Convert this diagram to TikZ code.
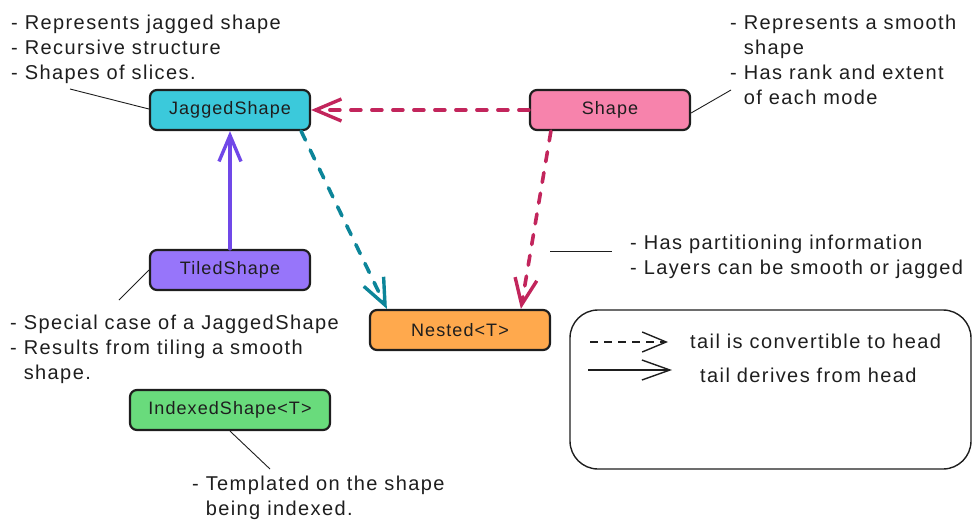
\documentclass[tikz,border=0pt]{standalone}
\usepackage{fontspec}
\setmainfont{Liberation Sans}[LetterSpace=7]
\newfontfamily\boxfont{Liberation Sans}[LetterSpace=6]
\usetikzlibrary{arrows.meta}
\definecolor{ink}{HTML}{1E1E1E}
\definecolor{cyanfill}{HTML}{3BC9DB}
\definecolor{pinkfill}{HTML}{F783AC}
\definecolor{purplefill}{HTML}{9775FA}
\definecolor{orangefill}{HTML}{FFA94D}
\definecolor{greenfill}{HTML}{69DB7C}
\definecolor{crimson}{HTML}{C2255C}
\definecolor{tealink}{HTML}{0C8599}
\definecolor{violetink}{HTML}{7048E8}
\begin{document}
\begin{tikzpicture}[x=1pt,y=-1pt,
  notefont/.style={font=\fontsize{20}{25}\selectfont},
  box/.style={draw=ink, line width=2.2pt, rounded corners=7pt, minimum height=40pt,
    inner sep=0pt, font=\boxfont\fontsize{18}{22}\selectfont, text=ink},
  note/.style={notefont, align=left, anchor=north west, inner sep=0pt, text=ink},
  legtext/.style={notefont, anchor=base west, inner sep=0pt, text=ink},
  lead/.style={draw=ink, line width=0.9pt},
  conv/.style={line width=3.6pt, line cap=round, dash pattern=on 10pt off 11pt,
    -{Straight Barb[length=26pt,width=22pt,line width=3.4pt]}},
  deriv/.style={line width=3.4pt, line cap=round,
    -{Straight Barb[length=26pt,width=22pt,line width=3.4pt]}}]
\useasboundingbox (0,0) rectangle (980,530);

% boxes
\node[box, fill=cyanfill, minimum width=160pt] (jag) at (230,110) {JaggedShape};
\node[box, fill=pinkfill, minimum width=160pt] (shape) at (610,110) {Shape};
\node[box, fill=purplefill, minimum width=160pt] (tiled) at (230,270) {TiledShape};
\node[box, fill=orangefill, minimum width=180pt] (nested) at (460,330) {Nested<T>};
\node[box, fill=greenfill, minimum width=200pt] (indexed) at (230,410) {IndexedShape<T>};

% arrows
\draw[conv, draw=crimson] (shape.west) -- (jag.east);
\draw[conv, draw=crimson] ([xshift=22pt]shape.south west) -- ([xshift=152pt]nested.north west);
\draw[conv, draw=tealink] ([xshift=-10pt]jag.south east) -- ([xshift=18pt]nested.north west);
\draw[deriv, draw=violetink] (tiled.north) -- (jag.south);

% notes
\node[note] (njag) at (11,15) {- Represents jagged shape\\- Recursive structure\\- Shapes of slices.};
\node[note] (nshape) at (730,15) {- Represents a smooth\\\phantom{- }shape\\- Has rank and extent\\\phantom{- }of each mode};
\node[note] (nnest) at (630,235) {- Has partitioning information\\- Layers can be smooth or jagged};
\node[note] (ntiled) at (10,315) {- Special case of a JaggedShape\\- Results from tiling a smooth\\\phantom{- }shape.};
\node[note] (nidx) at (192,476) {- Templated on the shape\\\phantom{- }being indexed.};

% leader lines
\coordinate (ljag) at (70,89);
\coordinate (lshape) at (731,90);
\coordinate (lnestA) at (550,251);
\coordinate (lnestB) at (612,251);
\coordinate (ltiled) at (119,300);
\coordinate (lidx) at (270,469);
\draw[lead] (ljag) -- ([yshift=1pt]jag.west);
\draw[lead] ([yshift=-3pt]shape.east) -- (lshape);
\draw[lead] (lnestA) -- (lnestB);
\draw[lead] (tiled.west) -- (ltiled);
\draw[lead] (indexed.south) -- (lidx);

% legend
\draw[draw=ink, line width=1.4pt, rounded corners=28pt] (570,310) rectangle (971,469);
\coordinate (d1) at (590,342);
\coordinate (d2) at (668,342);
\coordinate (s1) at (588,370);
\coordinate (s2) at (672,370);
\draw[ink, line width=1.4pt, dash pattern=on 8pt off 6pt,
  -{Straight Barb[length=24pt,width=20pt,line width=1.4pt]}] (d1) -- (d2);
\draw[ink, line width=1.4pt,
  -{Straight Barb[length=28pt,width=20pt,line width=1.4pt]}] (s1) -- (s2);
\node[legtext] (l1) at (690,348) {tail is convertible to head};
\node[legtext] (l2) at (700,382) {tail derives from head};
\end{tikzpicture}
\end{document}
